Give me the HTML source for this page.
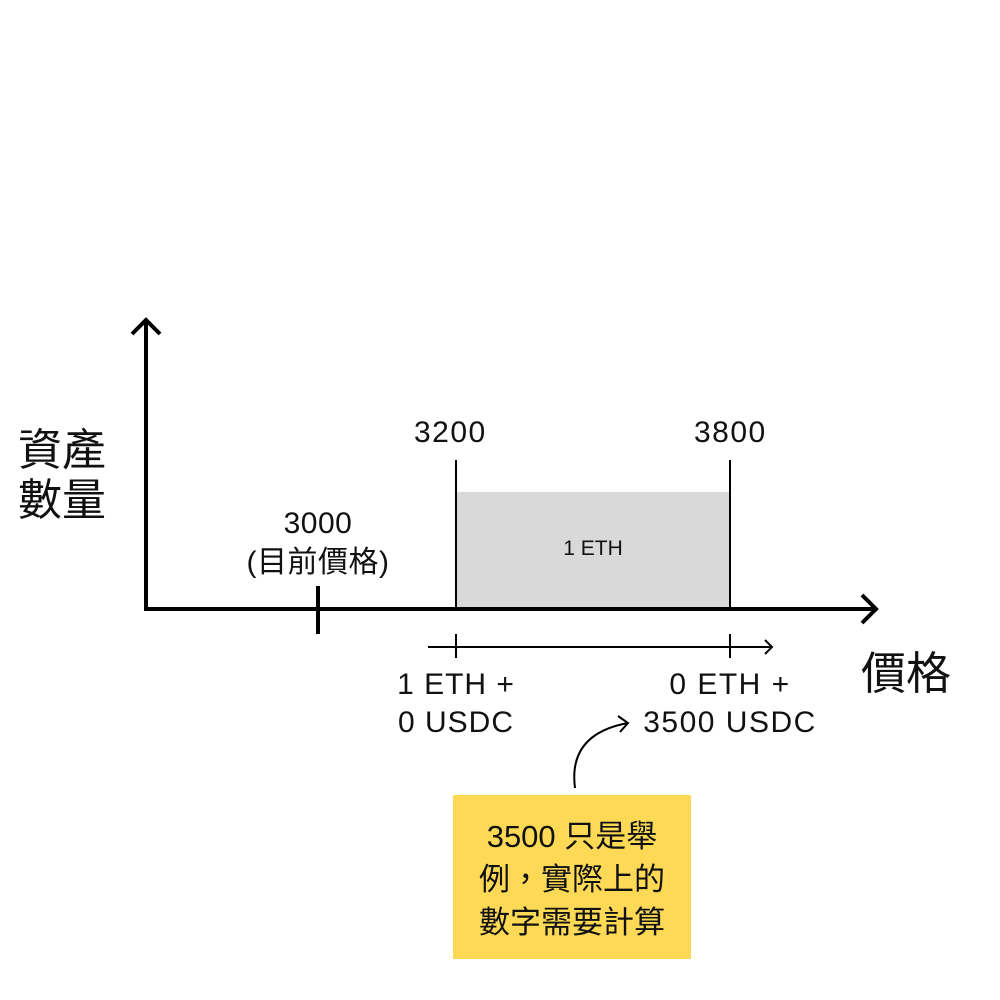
<!DOCTYPE html>
<html><head><meta charset="utf-8"><style>
body{margin:0;width:1000px;height:1000px;background:#fff;position:relative;overflow:hidden;font-family:"Liberation Sans","Noto Sans CJK TC",sans-serif;color:#111}
.t{position:absolute;white-space:nowrap;text-align:center}
</style></head><body>
<svg width="1000" height="1000" style="position:absolute;left:0;top:0">
<rect x="456" y="492" width="274" height="117" fill="#d9d9d9"/>
<g stroke="#000" fill="none" stroke-width="4">
<line x1="146" y1="320" x2="146" y2="610"/>
<polyline points="132,334 146,320 160,334"/>
<line x1="144" y1="609" x2="876" y2="609"/>
<polyline points="862,595 876,609 862,623"/>
<line x1="318" y1="586" x2="318" y2="634"/>
</g>
<g stroke="#000" fill="none" stroke-width="2">
<line x1="456" y1="460" x2="456" y2="609"/>
<line x1="730" y1="460" x2="730" y2="609"/>
<line x1="428" y1="647" x2="772" y2="647"/>
<polyline points="765,640 772,647 765,654"/>
<line x1="456" y1="634" x2="456" y2="658"/>
<line x1="730" y1="634" x2="730" y2="658"/>
<path d="M575,788 C570,750 590,730 628,723"/>
<polyline points="618,716 628,723 620,732"/>
</g>
<rect x="453" y="795" width="238" height="164" fill="#fdd955"/>
</svg>
<div class="t" style="left:18px;top:426px;font-size:44px;line-height:50px;text-align:left">資產<br>數量</div>
<div class="t" style="left:861px;top:637px;font-size:45px">價格</div>
<div class="t" style="left:414px;top:416px;font-size:30px;letter-spacing:1.5px">3200</div>
<div class="t" style="left:694px;top:416px;font-size:30px;letter-spacing:1.5px">3800</div>
<div class="t" style="left:230px;top:504px;width:176px;font-size:30px;line-height:39px;letter-spacing:0.5px">3000<br>(目前價格)</div>
<div class="t" style="left:456px;top:537px;width:274px;font-size:21px">1 ETH</div>
<div class="t" style="left:386px;top:666px;width:140px;font-size:30px;line-height:38px;letter-spacing:1px">1 ETH +<br>0 USDC</div>
<div class="t" style="left:630px;top:666px;width:200px;font-size:30px;line-height:38px;letter-spacing:1.5px">0 ETH +<br>3500 USDC</div>
<div class="t" style="left:453px;top:815px;width:238px;font-size:31px;line-height:43px">3500 只是舉<br>例，實際上的<br>數字需要計算</div>
</body></html>
